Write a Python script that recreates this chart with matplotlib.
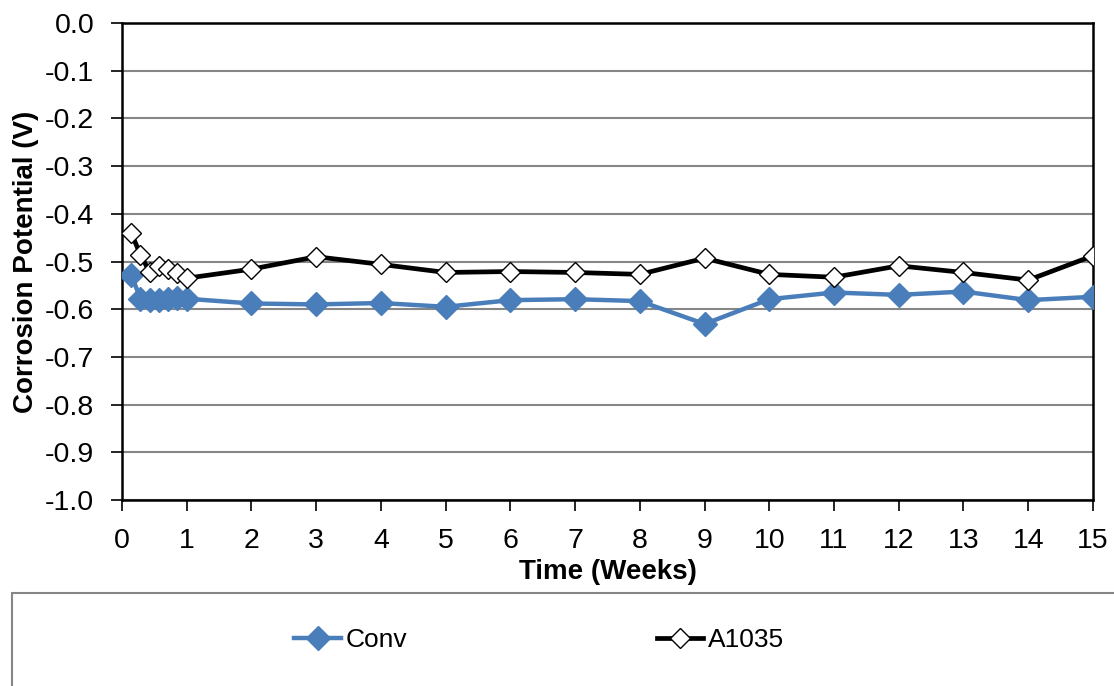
import matplotlib.pyplot as plt
from matplotlib.patches import Rectangle
from matplotlib.ticker import FuncFormatter, MultipleLocator

plt.rcParams['font.family'] = ['Liberation Sans', 'DejaVu Sans']

# Time in weeks: daily readings during the first week, then weekly
weeks = [1/7, 2/7, 3/7, 4/7, 5/7, 6/7, 1, 2, 3, 4, 5, 6, 7, 8, 9, 10, 11, 12, 13, 14, 15]

conv = [-0.528, -0.578, -0.580, -0.580, -0.578, -0.576, -0.578,
        -0.588, -0.590, -0.587, -0.595, -0.581, -0.579, -0.583, -0.631,
        -0.579, -0.565, -0.570, -0.563, -0.581, -0.574]

a1035 = [-0.440, -0.486, -0.522, -0.510, -0.515, -0.525, -0.535,
         -0.516, -0.490, -0.506, -0.523, -0.521, -0.523, -0.527, -0.493,
         -0.527, -0.533, -0.509, -0.523, -0.539, -0.488]

fig = plt.figure(figsize=(11.14, 6.86), dpi=100)
ax = fig.add_axes([0.1095, 0.2711, 0.9811 - 0.1095, 0.9665 - 0.2711])

ax.plot(weeks, conv, color='#4a7ebb', lw=3.2, marker='D', markersize=12,
        markerfacecolor='#4a7ebb', markeredgecolor='#4a7ebb', label='Conv', zorder=3)
ax.plot(weeks, a1035, color='black', lw=3.4, marker='D', markersize=10,
        markerfacecolor='white', markeredgecolor='black', markeredgewidth=1,
        label='A1035', zorder=4)

ax.set_xlim(0, 15)
ax.set_ylim(-1.0, 0.0)
ax.xaxis.set_major_locator(MultipleLocator(1))
ax.yaxis.set_major_locator(MultipleLocator(0.1))
ax.yaxis.set_major_formatter(FuncFormatter(lambda v, p: f'{v:.1f}'.replace('\u2212', '-')))
ax.grid(axis='y', color='#868686', lw=1.5)
ax.set_axisbelow(True)
for s in ax.spines.values():
    s.set_linewidth(1.8)
    s.set_color('black')
ax.tick_params(axis='both', labelsize=20.5, direction='out', length=8, width=1.2)
ax.tick_params(axis='y', pad=12)
ax.tick_params(axis='x', pad=12)

ax.set_xlabel('Time (Weeks)', fontsize=20, fontweight='bold', labelpad=4)
ax.set_ylabel('Corrosion Potential (V)', fontsize=20, fontweight='bold', labelpad=4)

# boxed legend area below the chart
fig.patches.append(Rectangle((12 / 1114, -0.2), 1.2, 0.2 + 1 - 593 / 686,
                             transform=fig.transFigure, facecolor='none',
                             edgecolor='#868686', lw=1.5))
fig.legend(handles=ax.get_lines(), loc='center', bbox_to_anchor=(0.4843, 1 - 640 / 686),
           ncol=2, frameon=False, fontsize=19, handlelength=1.75, handletextpad=0.2,
           columnspacing=9.45)

fig.savefig('out.png', dpi=100)
